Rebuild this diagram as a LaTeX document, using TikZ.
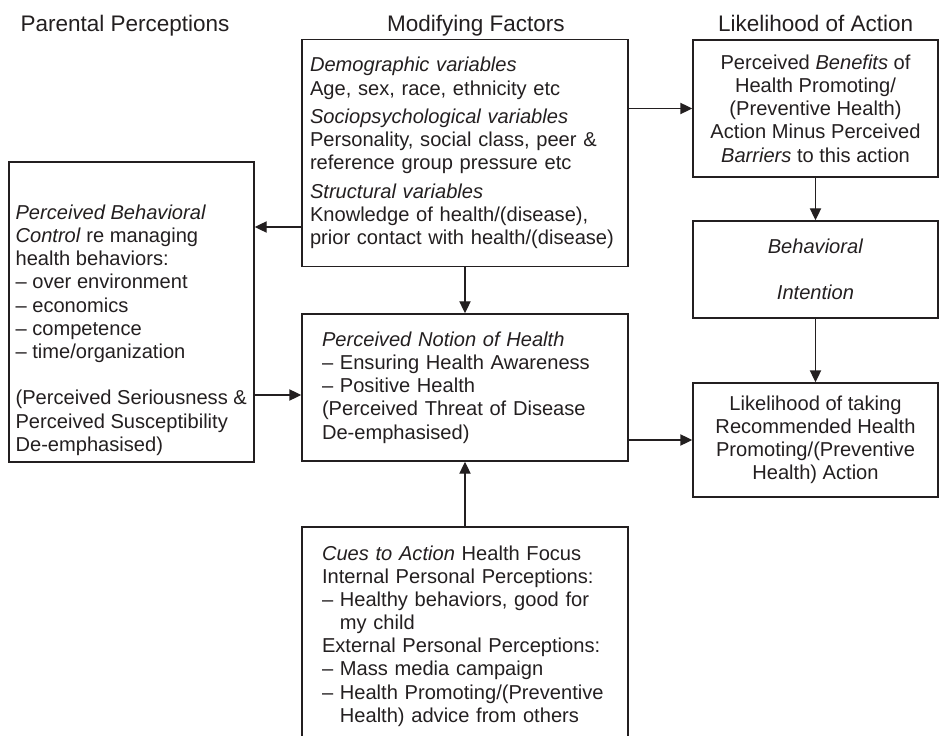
\documentclass[tikz,border=0pt]{standalone}
\usepackage{fontspec}
\setmainfont{Liberation Sans}
\usepackage{xcolor}
\usepackage{tikz}
\usetikzlibrary{arrows.meta, positioning, calc}
\definecolor{inkblack}{RGB}{35,31,32}
\newcommand{\hbmfont}{\fontsize{14.3}{16.5}\selectfont}
\newcommand{\hbmtitle}{\fontsize{16}{19}\selectfont}
\newcommand{\hbmind}{\phantom{-- }}

\begin{document}
\begin{tikzpicture}[
    box/.style={draw=inkblack, line width=1pt, inner sep=0pt, font=\hbmfont, text=inkblack},
    arr/.style={draw=inkblack, line width=1pt, -{Triangle[length=3mm,width=2.8mm]}},
    head/.style={anchor=base, font=\hbmtitle, text=inkblack}
]
    \useasboundingbox (0,0) rectangle (23.55,18.375);
    \clip (0,0) rectangle (23.55,18.375);

    % Column headings
    \node[head] (hpar) at (3.125,17.575) {Parental Perceptions};
    \node[head] (hmod) at (11.9,17.575) {Modifying Factors};
    \node[head] (hact) at (20.39,17.575) {Likelihood of Action};

    % Modifying factors
    \node[box, align=left, text width=7.75cm, inner xsep=0.2cm, minimum height=5.675cm] (mod) at (11.625,14.55) {%
        \textit{Demographic variables}\\
        Age, sex, race, ethnicity etc\\[3.6pt]
        \textit{Sociopsychological variables}\\
        Personality, social class, peer \&\\
        reference group pressure etc\\[3.6pt]
        \textit{Structural variables}\\
        Knowledge of health/(disease),\\
        prior contact with health/(disease)};

    % Parental perceptions
    \node[box, minimum width=6.125cm, minimum height=7.5cm] (pbc) at (3.2875,10.575) {};
    \node[align=left, font=\hbmfont, text=inkblack, inner sep=0pt, anchor=south west] (pbctxt)
        at ([shift={(0.175,0.175)}]pbc.south west) {%
        \textit{Perceived Behavioral}\\
        \textit{Control} re managing\\
        health behaviors:\\
        -- over environment\\
        -- economics\\
        -- competence\\
        -- time/organization\\[16.5pt]
        (Perceived Seriousness \&\\
        Perceived Susceptibility\\
        De-emphasised)};

    % Notion of health
    \node[box, align=left, text width=7.15cm, inner xsep=0.5cm, minimum height=3.675cm] (notion) at (11.625,8.6875) {%
        \textit{Perceived Notion of Health}\\
        -- Ensuring Health Awareness\\
        -- Positive Health\\
        (Perceived Threat of Disease\\
        De-emphasised)};

    % Cues to action
    \node[box, align=left, text width=7.15cm, inner xsep=0.5cm, minimum height=5.45cm] (cues) at (11.625,2.475) {%
        \textit{Cues to Action} Health Focus\\
        Internal Personal Perceptions:\\
        -- Healthy behaviors, good for\\
        \hbmind my child\\
        External Personal Perceptions:\\
        -- Mass media campaign\\
        -- Health Promoting/(Preventive\\
        \hbmind Health) advice from others};

    % Likelihood of action
    \node[box, align=center, minimum width=6.125cm, minimum height=3.425cm] (benefit) at (20.3875,15.6625) {%
        Perceived \textit{Benefits} of\\
        Health Promoting/\\
        (Preventive Health)\\
        Action Minus Perceived\\
        \textit{Barriers} to this action};
    \node[box, align=center, minimum width=6.125cm, minimum height=2.425cm] (intent) at (20.3875,11.6375) {%
        \textit{Behavioral}\\[16.5pt]
        \textit{Intention}};
    \node[box, align=center, minimum width=6.125cm, minimum height=2.85cm] (likely) at (20.3875,7.375) {%
        Likelihood of taking\\
        Recommended Health\\
        Promoting/(Preventive\\
        Health) Action};

    % Connectors
    \coordinate (modout) at ([yshift=-1.85cm]mod.west);
    \coordinate (notionin) at ([yshift=-0.1875cm]notion.west);
    \draw[arr] (modout) -- (modout -| pbc.east);
    \draw[arr] (mod.east |- benefit.west) -- (benefit.west);
    \draw[arr] (mod.south) -- (notion.north);
    \draw[arr] (notionin -| pbc.east) -- (notionin);
    \draw[arr] (notion.east |- likely.west) -- (likely.west);
    \draw[arr] (benefit.south) -- (intent.north);
    \draw[arr] (intent.south) -- (likely.north);
    \draw[arr] (cues.north) -- (notion.south);
\end{tikzpicture}
\end{document}
